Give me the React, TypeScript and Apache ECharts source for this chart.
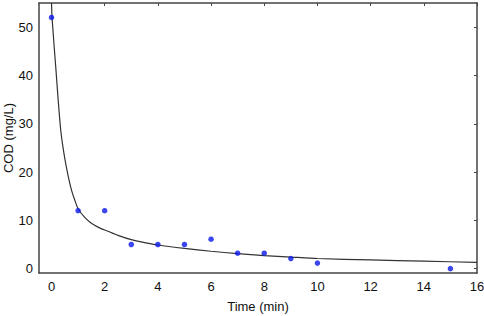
import React, { useEffect, useRef } from "react";
import * as echarts from "echarts";

const timeMin = [0, 1, 2, 3, 4, 5, 6, 7, 8, 9, 10, 15];
const codMeasured = [52, 12, 12, 5, 5, 5, 6.1, 3.2, 3.2, 2.1, 1.15, 0];

const fitTime = [0, 0.02, 0.06, 0.1, 0.17, 0.25, 0.35, 0.45, 0.54, 0.65, 0.76, 0.88, 1.0, 1.25, 1.5, 1.75, 2, 2.5, 3, 3.5, 4, 5, 6, 7, 8, 9, 10, 12, 14, 16];
const fitCod = [55, 52, 49, 46, 41, 35, 28.5, 24.5, 21.6, 18.6, 16.1, 14.1, 12.4, 10.6, 9.4, 8.6, 8.0, 6.9, 6.0, 5.4, 4.9, 4.2, 3.6, 3.1, 2.7, 2.4, 2.1, 1.8, 1.55, 1.3];

const xTicks = [0, 2, 4, 6, 8, 10, 12, 14, 16];
const yTicks = [0, 10, 20, 30, 40, 50];

const FONT = "Liberation Sans, Arial, sans-serif";

export default function App() {
  const ref = useRef<HTMLDivElement>(null);
  useEffect(() => {
    if (!ref.current) return;
    const chart = echarts.init(ref.current, null, { renderer: "svg" });
    const axisLine = { show: true, onZero: false, lineStyle: { color: "#444", width: 1.5 } };
    chart.setOption({
      animation: false,
      grid: { left: 39, top: 3, right: 7, bottom: 43, containLabel: false, outerBoundsMode: "none" },
      xAxis: [
        {
          type: "value",
          min: -0.47,
          max: 16,
          position: "bottom",
          name: "Time (min)",
          nameLocation: "middle",
          nameGap: 27,
          nameMoveOverlap: false,
          nameTextStyle: { fontFamily: FONT, fontSize: 13, color: "#111" },
          axisLine,
          axisTick: { show: false },
          splitLine: { show: false },
          axisLabel: {
            customValues: xTicks,
            fontFamily: FONT,
            fontSize: 13,
            color: "#111",
            margin: 7,
          },
        },
        {
          type: "value",
          min: -0.47,
          max: 16,
          position: "top",
          axisLine,
          axisTick: { show: true, inside: true, length: 3, customValues: xTicks, lineStyle: { color: "#444" } },
          axisLabel: { show: false },
          splitLine: { show: false },
        },
      ],
      yAxis: [
        {
          type: "value",
          min: -0.9,
          max: 55,
          position: "left",
          name: "COD (mg/L)",
          nameLocation: "middle",
          nameGap: 24,
          nameMoveOverlap: false,
          nameTextStyle: { fontFamily: FONT, fontSize: 13, color: "#111" },
          axisLine,
          axisTick: { show: false },
          splitLine: { show: false },
          axisLabel: {
            customValues: yTicks,
            fontFamily: FONT,
            fontSize: 13,
            color: "#111",
            margin: 6,
          },
        },
        {
          type: "value",
          min: -0.9,
          max: 55,
          position: "right",
          axisLine,
          axisTick: { show: true, inside: true, length: 3, customValues: yTicks, lineStyle: { color: "#444" } },
          axisLabel: { show: false },
          splitLine: { show: false },
        },
      ],
      series: [
        {
          type: "line",
          data: fitTime.map((t, i) => [t, fitCod[i]]),
          showSymbol: false,
          smooth: 0.2,
          clip: true,
          lineStyle: { color: "#333", width: 1.2 },
          z: 2,
        },
        {
          type: "scatter",
          data: timeMin.map((t, i) => [t, codMeasured[i]]),
          symbolSize: 5.5,
          itemStyle: { color: "#0a18e8" },
          z: 3,
        },
      ],
    });
    return () => chart.dispose();
  }, []);
  return <div ref={ref} style={{ width: 484, height: 316, position: "absolute", left: 0, top: 0 }} />;
}
